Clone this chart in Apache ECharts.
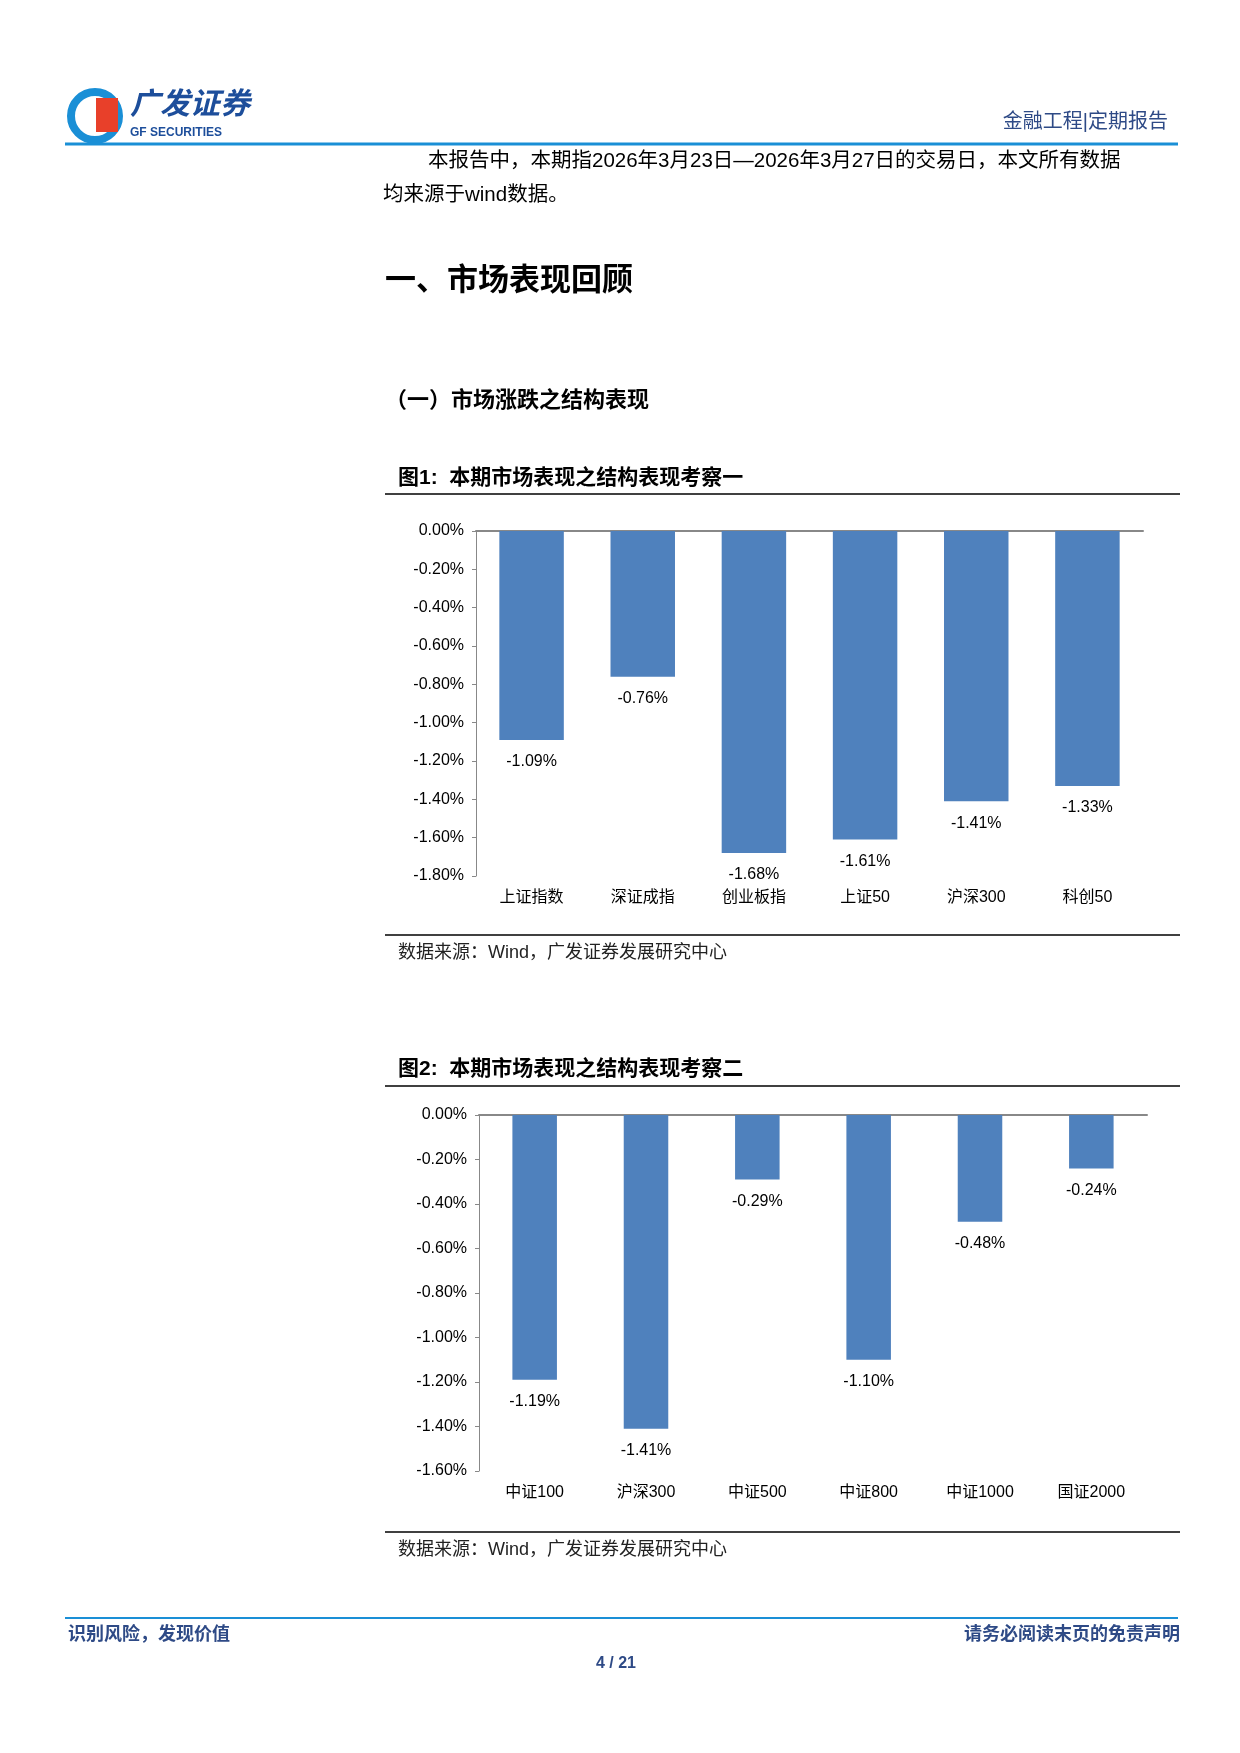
<!DOCTYPE html>
<html><head><meta charset="utf-8">
<script src="https://cdn.jsdelivr.net/npm/echarts@6/dist/echarts.min.js"></script>
<style>html,body{margin:0;padding:0;background:#fff}#c{width:1240px;height:1753px}</style>
</head><body><div id="c"></div>
<script>
const cats1 = ['上证指数','深证成指','创业板指','上证50','沪深300','科创50'];
const vals1 = [-1.09,-0.76,-1.68,-1.61,-1.41,-1.33];
const cats2 = ['中证100','沪深300','中证500','中证800','中证1000','国证2000'];
const vals2 = [-1.19,-1.41,-0.29,-1.10,-0.48,-0.24];

const FONT = 'Liberation Sans, "Noto Sans CJK SC", sans-serif';
const chart = echarts.init(document.getElementById('c'), null, {renderer:'canvas'});
function txt(x,y,s,size,opts){return Object.assign({type:'text',x:x,y:y,style:Object.assign({text:s,fontSize:size,fontFamily:FONT,fill:'#000',textVerticalAlign:'middle'},opts||{})});}
function line(x1,y1,x2,y2,c,w){return {type:'line',shape:{x1,y1,x2,y2},style:{stroke:c,lineWidth:w}};}
const graphic = [
  {type:'circle',shape:{cx:95,cy:116,r:24},style:{fill:'none',stroke:'#1a8fd6',lineWidth:8}},
  {type:'rect',shape:{x:96,y:98,width:22,height:34},style:{fill:'#e8402a'}},
  txt(130,106,'广发证券',30,{fontWeight:'bold',fill:'#1d4e9b',fontStyle:'italic'}),
  txt(130,133,'GF SECURITIES',12,{fontWeight:'bold',fill:'#1d4e9b'}),
  txt(1168,122,'金融工程|定期报告',20,{fill:'#2e4a86',textAlign:'right'}),
  line(65,144,1178,144,'#1a8fd6',3),
  txt(428,161,'本报告中，本期指2026年3月23日—2026年3月27日的交易日，本文所有数据',20.5),
  txt(383,195,'均来源于wind数据。',20.5),
  txt(385,281,'一、市场表现回顾',31,{fontWeight:'bold'}),
  txt(385,401,'（一）市场涨跌之结构表现',22,{fontWeight:'bold'}),
  txt(398,478,'图1:  本期市场表现之结构表现考察一',21,{fontWeight:'bold'}),
  line(385,494,1180,494,'#000',1.5),
  line(385,935,1180,935,'#000',1.5),
  txt(398,953,'数据来源：Wind，广发证券发展研究中心',18,{fill:'#222'}),
  txt(398,1069,'图2:  本期市场表现之结构表现考察二',21,{fontWeight:'bold'}),
  line(385,1086,1180,1086,'#000',1.5),
  line(385,1532,1180,1532,'#000',1.5),
  txt(398,1550,'数据来源：Wind，广发证券发展研究中心',18,{fill:'#222'}),
  line(65,1618,1178,1618,'#1a8fd6',2),
  txt(68,1635,'识别风险，发现价值',18,{fill:'#2e4a86',fontWeight:'bold'}),
  txt(1180,1635,'请务必阅读末页的免责声明',18,{fill:'#2e4a86',textAlign:'right',fontWeight:'bold'}),
  txt(616,1664,'4 / 21',16,{fill:'#2e4a86',textAlign:'center',fontWeight:'bold'})
];
function yAxis(gi,min){return {gridIndex:gi,type:'value',min:min,max:0,interval:0.2,
  axisLine:{show:true,lineStyle:{color:'#888'}},axisTick:{show:true,length:4,lineStyle:{color:'#888'}},splitLine:{show:false},
  axisLabel:{formatter:v=>v.toFixed(2)+'%',fontSize:16,fontFamily:FONT,color:'#000',margin:12}};}
function xAxis(gi,cats){return {gridIndex:gi,type:'category',data:cats,position:'top',
  axisLine:{lineStyle:{color:'#888',width:2}},axisTick:{show:false},axisLabel:{show:false}};}
function labels(gi,cats,y){return {gridIndex:gi,type:'category',data:cats,position:'bottom',offset:0,
  axisLine:{show:false},axisTick:{show:false},axisLabel:{fontSize:16,fontFamily:FONT,color:'#000',margin:y}};}
const lbl = {show:true,position:'bottom',distance:14,formatter:p=>p.value.toFixed(2)+'%',fontSize:16,fontFamily:FONT,color:'#000'};
chart.setOption({
  animation:false,
  graphic:graphic,
  grid:[{left:476,top:531,width:667,height:345},{left:479,top:1115,width:668,height:356}],
  xAxis:[xAxis(0,cats1),xAxis(1,cats2),labels(0,cats1,14),labels(1,cats2,14)],
  yAxis:[yAxis(0,-1.8),yAxis(1,-1.6)],
  series:[
    {type:'bar',xAxisIndex:0,yAxisIndex:0,data:vals1,barWidth:'58%',itemStyle:{color:'#4F81BD'},label:lbl},
    {type:'bar',xAxisIndex:1,yAxisIndex:1,data:vals2,barWidth:'40%',itemStyle:{color:'#4F81BD'},label:lbl}
  ]
});
</script></body></html>
